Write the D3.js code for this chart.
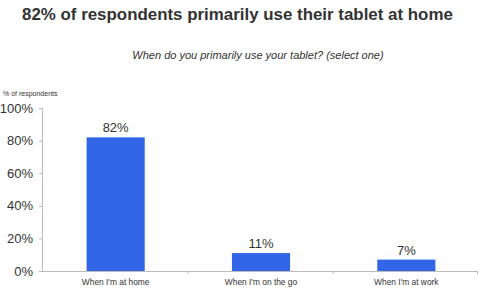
<!DOCTYPE html>
<html><head><meta charset="utf-8">
<script src="https://cdn.jsdelivr.net/npm/d3@7"></script>
<style>body{margin:0;background:#fff;} text{font-family:"Liberation Sans",Arial,sans-serif;}</style>
</head><body><svg id="c" width="480" height="293"></svg>
<script>
const categories = ["When I'm at home", "When I'm on the go", "When I'm at work"];
const values = [82, 11, 7];
const yTicks = [0, 20, 40, 60, 80, 100];

(function () {
const svg = d3.select("#c");
const mLeft = 42, mRight = 478, mTop = 108, mBottom = 271;
const x = d3.scaleBand().domain(categories).range([mLeft, mRight]).padding(0);
const y = d3.scaleLinear().domain([0, 100]).range([mBottom, mTop]);

svg.append("text").attr("x", 22).attr("y", 20).attr("font-size", 16.9).attr("font-weight", "bold")
  .attr("fill", "#333").text("82% of respondents primarily use their tablet at home");
svg.append("text").attr("x", 258).attr("y", 59).attr("text-anchor", "middle").attr("font-size", 11)
  .attr("font-style", "italic").attr("fill", "#333").text("When do you primarily use your tablet? (select one)");
svg.append("text").attr("x", 3).attr("y", 96).attr("font-size", 7).attr("fill", "#333").text("% of respondents");

const yAxis = svg.append("g").attr("transform", `translate(${mLeft},0)`)
  .call(d3.axisLeft(y).tickValues(yTicks).tickFormat(d => d + "%").tickSize(3).tickPadding(6));
yAxis.select(".domain").attr("stroke", "#bbb");
yAxis.selectAll(".tick line").attr("stroke", "#bbb");
yAxis.selectAll("text").attr("font-size", 13).attr("fill", "#333").attr("font-family", "Liberation Sans, Arial, sans-serif");

const xg = svg.append("g");
xg.append("line").attr("x1", mLeft).attr("x2", mRight).attr("y1", mBottom + 0.5).attr("y2", mBottom + 0.5).attr("stroke", "#bbb");
const bounds = categories.slice(1).map(c => x(c));
xg.selectAll(".xt").data(bounds).join("line").attr("x1", d => d + 0.5).attr("x2", d => d + 0.5)
  .attr("y1", mBottom).attr("y2", mBottom + 3).attr("stroke", "#bbb");
xg.append("line").attr("x1", mRight - 0.5).attr("x2", mRight - 0.5).attr("y1", mBottom).attr("y2", mBottom + 3).attr("stroke", "#bbb");
xg.selectAll(".xl").data(categories).join("text")
  .attr("x", d => x(d) + x.bandwidth() / 2 + 1).attr("y", 285).attr("text-anchor", "middle")
  .attr("font-size", 8.4).attr("fill", "#333").text(d => d);

const bw = x.bandwidth() * 0.4;
svg.selectAll(".bar").data(values).join("rect")
  .attr("x", (d, i) => x(categories[i]) + x.bandwidth() / 2 - bw / 2 + 1)
  .attr("width", bw)
  .attr("y", d => y(d)).attr("height", d => mBottom - y(d))
  .attr("fill", "#3366e6");
svg.selectAll(".vl").data(values).join("text")
  .attr("x", (d, i) => x(categories[i]) + x.bandwidth() / 2 + 1)
  .attr("y", d => y(d) - 5).attr("text-anchor", "middle").attr("font-size", 13).attr("fill", "#333")
  .text(d => d + "%");
})();
</script></body></html>
